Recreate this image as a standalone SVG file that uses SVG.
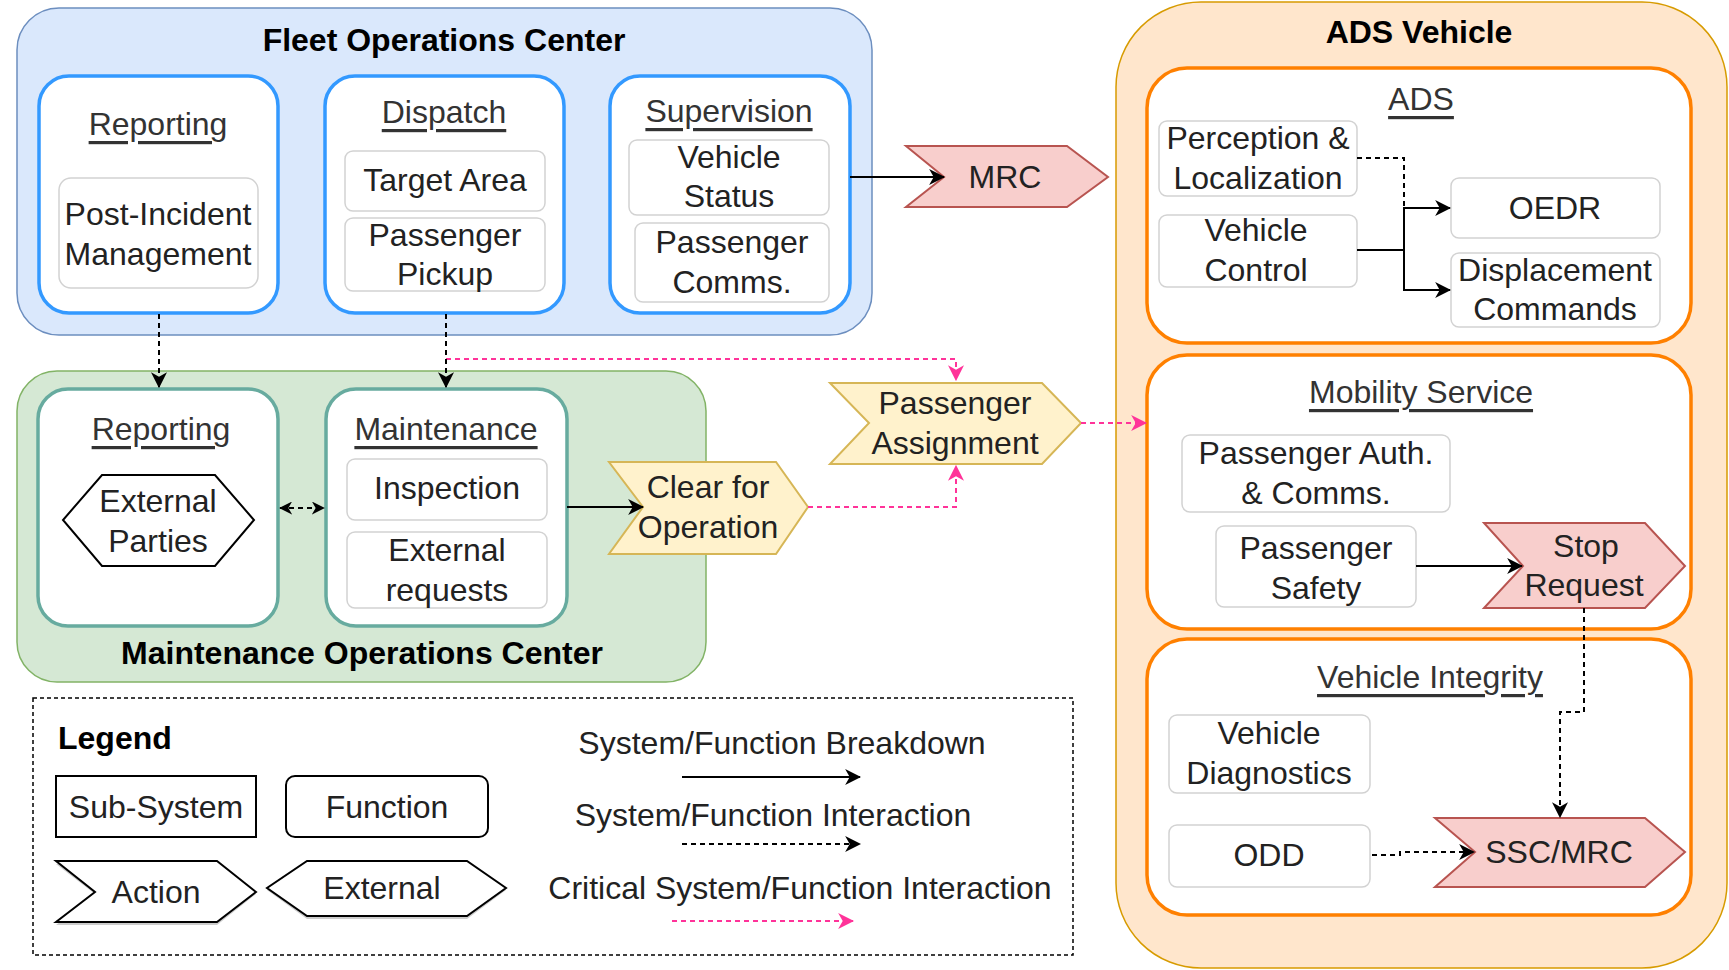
<svg xmlns="http://www.w3.org/2000/svg" width="1729" height="970" viewBox="0 0 1729 970">
  <style>
    text { font-family: "Liberation Sans", Arial, Helvetica, sans-serif; font-size: 32px; fill: #222; text-anchor: middle; dominant-baseline: central; }
    .title { font-weight: bold; fill: #000; }
    .ul { text-decoration: underline; fill: #333; }
    .fn { fill: #fff; stroke: #d2d2d2; stroke-width: 1.5; }
    .ss-blue { fill: #fff; stroke: #3399ff; stroke-width: 3.5; }
    .ss-teal { fill: #fff; stroke: #67ab9f; stroke-width: 3.5; }
    .ss-orange { fill: #fff; stroke: #ff8000; stroke-width: 3.5; }
    .act-red { fill: #f8cecc; stroke: #b85450; stroke-width: 2; }
    .act-yel { fill: #fff2cc; stroke: #d6b656; stroke-width: 2; }
    .solid { fill: none; stroke: #000; stroke-width: 2; }
    .dash { fill: none; stroke: #000; stroke-width: 2; stroke-dasharray: 5 4; }
    .crit { fill: none; stroke: #ff3399; stroke-width: 2; stroke-dasharray: 5 4; }
  </style>
  <defs>
    <marker id="ah" viewBox="0 0 14 14" refX="13" refY="7" markerWidth="16" markerHeight="16" orient="auto-start-reverse" markerUnits="userSpaceOnUse">
      <path d="M0,0 L14,7 L0,14 L4,7 Z" fill="#000"/>
    </marker>
    <marker id="ahp" viewBox="0 0 14 14" refX="13" refY="7" markerWidth="16" markerHeight="16" orient="auto" markerUnits="userSpaceOnUse">
      <path d="M0,0 L14,7 L0,14 L4,7 Z" fill="#ff3399"/>
    </marker>
    <marker id="ahs" viewBox="0 0 14 14" refX="13" refY="7" markerWidth="13" markerHeight="13" orient="auto-start-reverse" markerUnits="userSpaceOnUse">
      <path d="M0,0 L14,7 L0,14 L4,7 Z" fill="#000"/>
    </marker>
  </defs>

  <rect width="1729" height="970" fill="#fff"/>

  <!-- Fleet Operations Center -->
  <g id="fleet-ops">
    <rect x="17" y="8" width="855" height="327" rx="42" fill="#dae8fc" stroke="#6c8ebf" stroke-width="1.5"/>
    <text class="title" x="444" y="40">Fleet Operations Center</text>
  </g>
  <g id="foc-reporting">
    <rect class="ss-blue" x="39" y="76" width="239" height="237" rx="30"/>
    <text class="ul" x="158" y="124">Reporting</text>
  </g>
  <g id="post-incident">
    <rect class="fn" x="59" y="178" width="199" height="110" rx="12"/>
    <text x="158" y="214">Post-Incident</text>
    <text x="158" y="254">Management</text>
  </g>
  <g id="dispatch">
    <rect class="ss-blue" x="325" y="76" width="239" height="237" rx="30"/>
    <text class="ul" x="444" y="112">Dispatch</text>
  </g>
  <g id="target-area">
    <rect class="fn" x="345" y="151" width="200" height="60" rx="8"/>
    <text x="445" y="180">Target Area</text>
  </g>
  <g id="passenger-pickup">
    <rect class="fn" x="345" y="218" width="200" height="73" rx="8"/>
    <text x="445" y="235">Passenger</text>
    <text x="445" y="274">Pickup</text>
  </g>
  <g id="supervision">
    <rect class="ss-blue" x="610" y="76" width="240" height="237" rx="30"/>
    <text class="ul" x="729" y="111">Supervision</text>
  </g>
  <g id="vehicle-status">
    <rect class="fn" x="629" y="140" width="200" height="75" rx="8"/>
    <text x="729" y="157">Vehicle</text>
    <text x="729" y="196">Status</text>
  </g>
  <g id="passenger-comms">
    <rect class="fn" x="635" y="223" width="194" height="79" rx="8"/>
    <text x="732" y="242">Passenger</text>
    <text x="732" y="282">Comms.</text>
  </g>

  <!-- Maintenance Operations Center -->
  <g id="maint-ops">
    <rect x="17" y="371" width="689" height="311" rx="40" fill="#d5e8d4" stroke="#82b366" stroke-width="1.5"/>
    <text class="title" x="362" y="653">Maintenance Operations Center</text>
  </g>
  <g id="moc-reporting">
    <rect class="ss-teal" x="38" y="389" width="240" height="237" rx="30"/>
    <text class="ul" x="161" y="429">Reporting</text>
  </g>
  <g id="external-parties">
    <polygon points="102,475 215,475 254,520 215,566 102,566 63,520" fill="#fff" stroke="#000" stroke-width="2"/>
    <text x="158" y="501">External</text>
    <text x="158" y="541">Parties</text>
  </g>
  <g id="maintenance">
    <rect class="ss-teal" x="326" y="389" width="241" height="237" rx="30"/>
    <text class="ul" x="446" y="429">Maintenance</text>
  </g>
  <g id="inspection">
    <rect class="fn" x="347" y="459" width="200" height="61" rx="8"/>
    <text x="447" y="488">Inspection</text>
  </g>
  <g id="external-requests">
    <rect class="fn" x="347" y="532" width="200" height="76" rx="8"/>
    <text x="447" y="550">External</text>
    <text x="447" y="590">requests</text>
  </g>
  <g id="clear-for-operation">
    <polygon class="act-yel" points="609,462 776,462 808,507 776,554 609,554 643,507"/>
    <text x="708" y="487">Clear for</text>
    <text x="708" y="527">Operation</text>
  </g>

  <!-- Actions between centers and vehicle -->
  <g id="mrc">
    <polygon class="act-red" points="906,146 1067,146 1108,177 1067,207 906,207 944,177"/>
    <text x="1005" y="177">MRC</text>
  </g>
  <g id="passenger-assignment">
    <polygon class="act-yel" points="830,383 1042,383 1081,423 1042,464 830,464 869,423"/>
    <text x="955" y="403">Passenger</text>
    <text x="955" y="443">Assignment</text>
  </g>

  <!-- ADS Vehicle -->
  <g id="ads-vehicle">
    <rect x="1116" y="2" width="611" height="966" rx="85" fill="#ffe6cc" stroke="#d79b00" stroke-width="1.5"/>
    <text class="title" x="1419" y="32">ADS Vehicle</text>
  </g>
  <g id="ads">
    <rect class="ss-orange" x="1147" y="68" width="544" height="275" rx="40"/>
    <text class="ul" x="1421" y="99">ADS</text>
  </g>
  <g id="perception">
    <rect class="fn" x="1159" y="121" width="198" height="75" rx="8"/>
    <text x="1258" y="138">Perception &amp;</text>
    <text x="1258" y="178">Localization</text>
  </g>
  <g id="vehicle-control">
    <rect class="fn" x="1159" y="215" width="198" height="72" rx="8"/>
    <text x="1256" y="230">Vehicle</text>
    <text x="1256" y="270">Control</text>
  </g>
  <g id="oedr">
    <rect class="fn" x="1451" y="178" width="209" height="60" rx="8"/>
    <text x="1555" y="208">OEDR</text>
  </g>
  <g id="displacement">
    <rect class="fn" x="1451" y="253" width="209" height="74" rx="8"/>
    <text x="1555" y="270">Displacement</text>
    <text x="1555" y="309">Commands</text>
  </g>

  <g id="mobility-service">
    <rect class="ss-orange" x="1147" y="355" width="544" height="274" rx="40"/>
    <text class="ul" x="1421" y="392">Mobility Service</text>
  </g>
  <g id="passenger-auth">
    <rect class="fn" x="1182" y="435" width="268" height="77" rx="8"/>
    <text x="1316" y="453">Passenger Auth.</text>
    <text x="1316" y="493">&amp; Comms.</text>
  </g>
  <g id="passenger-safety">
    <rect class="fn" x="1216" y="526" width="200" height="81" rx="8"/>
    <text x="1316" y="548">Passenger</text>
    <text x="1316" y="588">Safety</text>
  </g>
  <g id="stop-request">
    <polygon class="act-red" points="1484,523 1645,523 1685,566 1645,608 1484,608 1523,566"/>
    <text x="1586" y="546">Stop</text>
    <text x="1584" y="585">Request</text>
  </g>

  <g id="vehicle-integrity">
    <rect class="ss-orange" x="1147" y="639" width="544" height="276" rx="40"/>
    <text class="ul" x="1430" y="677">Vehicle Integrity</text>
  </g>
  <g id="vehicle-diagnostics">
    <rect class="fn" x="1169" y="715" width="201" height="78" rx="8"/>
    <text x="1269" y="733">Vehicle</text>
    <text x="1269" y="773">Diagnostics</text>
  </g>
  <g id="odd">
    <rect class="fn" x="1169" y="825" width="201" height="62" rx="8"/>
    <text x="1269" y="855">ODD</text>
  </g>
  <g id="ssc-mrc">
    <polygon class="act-red" points="1435,818 1645,818 1685,852 1645,887 1435,887 1475,852"/>
    <text x="1559" y="852">SSC/MRC</text>
  </g>

  <!-- Connectors -->
  <g id="connectors">
    <path class="dash" d="M159,314 L159,387" marker-end="url(#ah)"/>
    <path class="crit" d="M446,314 L446,359 L956,359 L956,380" marker-end="url(#ahp)"/>
    <path class="dash" d="M446,314 L446,387" marker-end="url(#ah)"/>
    <path class="solid" d="M850,177 L944,177" marker-end="url(#ah)"/>
    <path class="dash" d="M280,508 L324,508" marker-start="url(#ahs)" marker-end="url(#ahs)"/>
    <path class="solid" d="M567,507 L643,507" marker-end="url(#ah)"/>
    <path class="crit" d="M808,507 L956,507 L956,466" marker-end="url(#ahp)"/>
    <path class="crit" d="M1081,423 L1146,423" marker-end="url(#ahp)"/>
    <path class="dash" d="M1357,158 L1404,158 L1404,208"/>
    <path class="solid" d="M1357,250 L1404,250 L1404,208 L1450,208" marker-end="url(#ah)"/>
    <path class="solid" d="M1404,250 L1404,290 L1450,290" marker-end="url(#ah)"/>
    <path class="solid" d="M1416,566 L1522,566" marker-end="url(#ah)"/>
    <path class="dash" d="M1584,608 L1584,712 L1560,712 L1560,817" marker-end="url(#ah)"/>
    <path class="dash" d="M1372,855 L1400,855 L1400,852 L1474,852" marker-end="url(#ah)"/>
  </g>

  <!-- Legend -->
  <g id="legend">
    <rect x="33" y="698" width="1040" height="257" fill="none" stroke="#000" stroke-width="1.5" stroke-dasharray="4 3"/>
    <text class="title" x="58" y="738" style="text-anchor:start">Legend</text>
    <rect x="56" y="776" width="200" height="61" fill="#fff" stroke="#000" stroke-width="2"/>
    <text x="156" y="807">Sub-System</text>
    <rect x="286" y="776" width="202" height="61" rx="9" fill="#fff" stroke="#000" stroke-width="2"/>
    <text x="387" y="807">Function</text>
    <polygon points="56,864 217,864 256,894 217,925 56,925 95,894" fill="#999" opacity="0.5"/>
    <polygon points="56,861 217,861 256,892 217,922 56,922 95,892" fill="#fff" stroke="#000" stroke-width="2"/>
    <text x="156" y="892">Action</text>
    <polygon points="307,864 467,864 506,890 467,919 307,919 267,890" fill="#999" opacity="0.5"/>
    <polygon points="307,861 467,861 506,888 467,916 307,916 267,888" fill="#fff" stroke="#000" stroke-width="2"/>
    <text x="382" y="888">External</text>
    <text x="782" y="743">System/Function Breakdown</text>
    <path class="solid" d="M682,777 L860,777" marker-end="url(#ah)"/>
    <text x="773" y="815">System/Function Interaction</text>
    <path class="dash" d="M682,844 L860,844" marker-end="url(#ah)"/>
    <text x="800" y="888">Critical System/Function Interaction</text>
    <path class="crit" d="M672,921 L853,921" stroke-width="3" marker-end="url(#ahp)"/>
  </g>
</svg>
